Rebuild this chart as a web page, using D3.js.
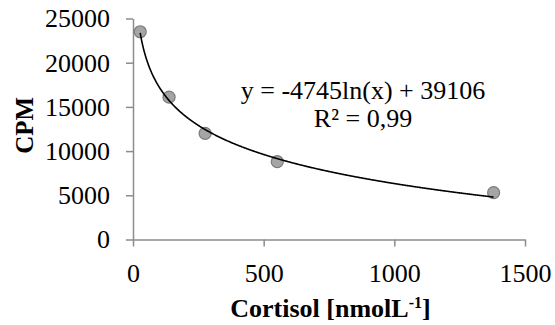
<!DOCTYPE html>
<html>
<head>
<meta charset="utf-8">
<script src="https://cdn.jsdelivr.net/npm/d3@7"></script>
<style>
  body { margin: 0; background: #fff; }
  text { font-family: "Liberation Serif", "Times New Roman", serif; fill: #000; }
</style>
</head>
<body>
<div id="chart"></div>
<script>
// datos del gráfico
const cortisol = [27.6, 138, 276, 552, 1380];
const cpm = [23500, 16100, 12000, 8800, 5300];
const xTicks = [0, 500, 1000, 1500];
const yTicks = [0, 5000, 10000, 15000, 20000, 25000];
// coeficientes de la línea de tendencia (mostrados en el gráfico)
const slope = -4745;
const intercept = 39106;
const eqLabel = "y = -4745ln(x) + 39106";
const r2Label = "R² = 0,99";

let width = 555, height = 325;
let margin = {left: 133, right: 30, top: 18.5, bottom: 85.5};

let svg = d3.select("#chart").append("svg")
    .attr("width", width)
    .attr("height", height);

let x = d3.scaleLinear().domain([0, 1500]).range([margin.left, width - margin.right]);
let y = d3.scaleLinear().domain([0, 25000]).range([height - margin.bottom, margin.top]);

let axisColor = "#8c8c8c";

// eje X
let gx = svg.append("g")
    .attr("transform", "translate(0," + y(0) + ")")
    .call(d3.axisBottom(x).tickValues(xTicks).tickFormat(d3.format("d")).tickSizeInner(7).tickSizeOuter(0).tickPadding(17));
// eje Y
let gy = svg.append("g")
    .attr("transform", "translate(" + x(0) + ",0)")
    .call(d3.axisLeft(y).tickValues(yTicks).tickFormat(d3.format("d")).tickSizeInner(7).tickSizeOuter(0).tickPadding(16));

[gx, gy].forEach(function(g) {
    g.select(".domain").attr("stroke", axisColor).attr("stroke-width", 1.5);
    g.selectAll(".tick line").attr("stroke", axisColor).attr("stroke-width", 1.5);
    g.selectAll(".tick text")
        .attr("font-family", "'Liberation Serif', 'Times New Roman', serif")
        .attr("font-size", 26)
        .attr("fill", "#000");
});

// puntos
svg.append("g").selectAll("circle")
    .data(cortisol)
    .enter()
    .append("circle")
    .attr("cx", function(d) { return x(d); })
    .attr("cy", function(d, i) { return y(cpm[i]); })
    .attr("r", 6)
    .attr("fill", "#a5a5a5")
    .attr("stroke", "#7a7a7a")
    .attr("stroke-width", 1.2);

// línea de tendencia logarítmica
let xs = d3.range(cortisol[0], cortisol[cortisol.length - 1], 2).concat([cortisol[cortisol.length - 1]]);
let line = d3.line()
    .x(function(d) { return x(d); })
    .y(function(d) { return y(slope * Math.log(d) + intercept); });

svg.append("path")
    .datum(xs)
    .attr("d", line)
    .attr("fill", "none")
    .attr("stroke", "#000")
    .attr("stroke-width", 1.6);

// ecuación
svg.append("text")
    .attr("x", 363)
    .attr("y", 99)
    .attr("text-anchor", "middle")
    .attr("font-size", 26)
    .text(eqLabel);
svg.append("text")
    .attr("x", 363)
    .attr("y", 126.5)
    .attr("text-anchor", "middle")
    .attr("font-size", 26)
    .text(r2Label);

// títulos de ejes
let xt = svg.append("text")
    .attr("x", 330.5)
    .attr("y", 316.5)
    .attr("text-anchor", "middle")
    .attr("font-size", 26)
    .attr("font-weight", "bold");
xt.append("tspan").text("Cortisol [nmolL");
xt.append("tspan").attr("font-size", 16).attr("dy", -9).text("-1");
xt.append("tspan").attr("dy", 9).text("]");

svg.append("text")
    .attr("transform", "translate(32.5,125.3) rotate(-90)")
    .attr("text-anchor", "middle")
    .attr("font-size", 25)
    .attr("font-weight", "bold")
    .text("CPM");
</script>
</body>
</html>
